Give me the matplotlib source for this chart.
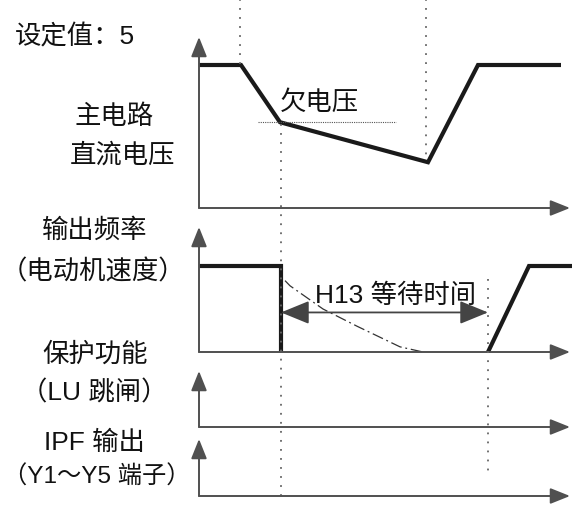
import numpy as np
import matplotlib
matplotlib.use("Agg")
import matplotlib.pyplot as plt

# ---------------- data ----------------
# time axis (arbitrary units) shared by all panels
dc_t = [0, 42, 81, 229, 279, 362]          # main-circuit DC voltage
dc_v = [100, 100, 60, 32, 100, 100]
uv_level = 60                              # undervoltage threshold
uv_t = [59, 197]

freq_t = [0, 82, 82, np.nan, 289, 330, 373]   # output frequency
freq_v = [100, 100, 0, np.nan, 0, 100, 100]

coast_t = [86, 91, 124, 158, 201, 224]        # motor coasting speed
coast_v = [83, 77, 50, 30, 6, 0]

h13_t = [82, 289]                              # H13 waiting time
h13_level = 46

event_t = [41, 82, 227, 289]                   # dotted event markers

labels_left = ["设定值：5", "主电路", "直流电压", "输出频率", "（电动机速度）",
               "保护功能", "（LU 跳闸）", "IPF 输出", "（Y1～Y5 端子）"]
uv_label = "欠电压"
h13_label = "H13 等待时间"

# ---------------- figure ----------------
W, H = 580, 506
fig = plt.figure(figsize=(W / 100, H / 100), dpi=100)
FONT = ["Liberation Sans", "Noto Sans CJK SC", "DejaVu Sans"]

X0, X1 = 199, 579          # pixel span of time axes
TMAX = X1 - X0
AX_COL = "#505050"
SIG_COL = "#1a1a1a"


def panel(top, base, high):
    """axes whose y=0 lies on pixel row `base`, y=100 on `high`, top at `top`."""
    ytop = (base - top) / (base - high) * 100
    ax = fig.add_axes([X0 / W, 1 - base / H, (X1 - X0) / W, (base - top) / H])
    ax.set_xlim(0, TMAX)
    ax.set_ylim(0, ytop)
    ax.axis("off")
    # axes with arrows
    ax.annotate("", xy=(371, 0), xytext=(0, 0), xycoords="data",
                arrowprops=dict(arrowstyle="-|>,head_length=0.75,head_width=0.3",
                                mutation_scale=16, color=AX_COL, lw=1.4,
                                shrinkA=0, shrinkB=0), annotation_clip=False)
    ax.annotate("", xy=(0, ytop), xytext=(0, 0), xycoords="data",
                arrowprops=dict(arrowstyle="-|>,head_length=0.75,head_width=0.3",
                                mutation_scale=16, color=AX_COL, lw=1.4,
                                shrinkA=0, shrinkB=0), annotation_clip=False)
    return ax


ax1 = panel(38, 209, 66)
ax2 = panel(228, 353, 267)
ax3 = panel(372, 428, 400)
ax4 = panel(440, 497, 470)

# DC voltage
ax1.plot(dc_t, dc_v, color=SIG_COL, lw=3.0, solid_joinstyle="miter",
         solid_capstyle="butt", clip_on=False)
ax1.plot(uv_t, [uv_level, uv_level], color="#555555", lw=0.8,
         linestyle=(0, (1, 1)), clip_on=False)

# output frequency
ax2.plot(coast_t, coast_v, color="#333333", lw=0.9,
         linestyle=(0, (9, 3, 1.5, 3)), clip_on=False)
ax2.plot(freq_t, freq_v, color=SIG_COL, lw=3.0, solid_joinstyle="miter",
         solid_capstyle="butt", clip_on=False)
ax2.annotate("", xy=(h13_t[1], h13_level), xytext=(h13_t[0], h13_level),
             arrowprops=dict(arrowstyle="<|-|>,head_length=1.1,head_width=0.45",
                             mutation_scale=16, color="#444444", lw=1.3,
                             shrinkA=0, shrinkB=0), annotation_clip=False)

# overlay for dotted event lines (y in pixel rows)
ov = fig.add_axes([X0 / W, 0, (X1 - X0) / W, 1])
ov.set_xlim(0, TMAX)
ov.set_ylim(H, 0)
ov.axis("off")
ov.patch.set_alpha(0)
ev_span = [(0, 66), (125, 496), (0, 162), (280, 474)]
for t, (ya, yb) in zip(event_t, ev_span):
    ov.plot([t, t], [ya, yb], color="#666666", lw=1.3, linestyle=(0, (1, 4)))

# ---------------- texts ----------------
fs = 19
def ftext(x, y, s, ha="center", size=fs):
    fig.text(x / W, 1 - y / H, s, ha=ha, va="center", fontsize=size,
             family=FONT, color="#111111")

ftext(15, 37, labels_left[0], ha="left")
ftext(114, 117, labels_left[1])
ftext(123, 155, labels_left[2])
ftext(95, 231, labels_left[3])
ftext(93, 272, labels_left[4])
ftext(95, 354, labels_left[5])
ftext(94, 393, labels_left[6])
ftext(94, 443, labels_left[7])
ftext(97, 477, labels_left[8], size=17.5)
ftext(319, 103, uv_label)
ftext(396, 296, h13_label)

fig.savefig("out.png", dpi=100)
